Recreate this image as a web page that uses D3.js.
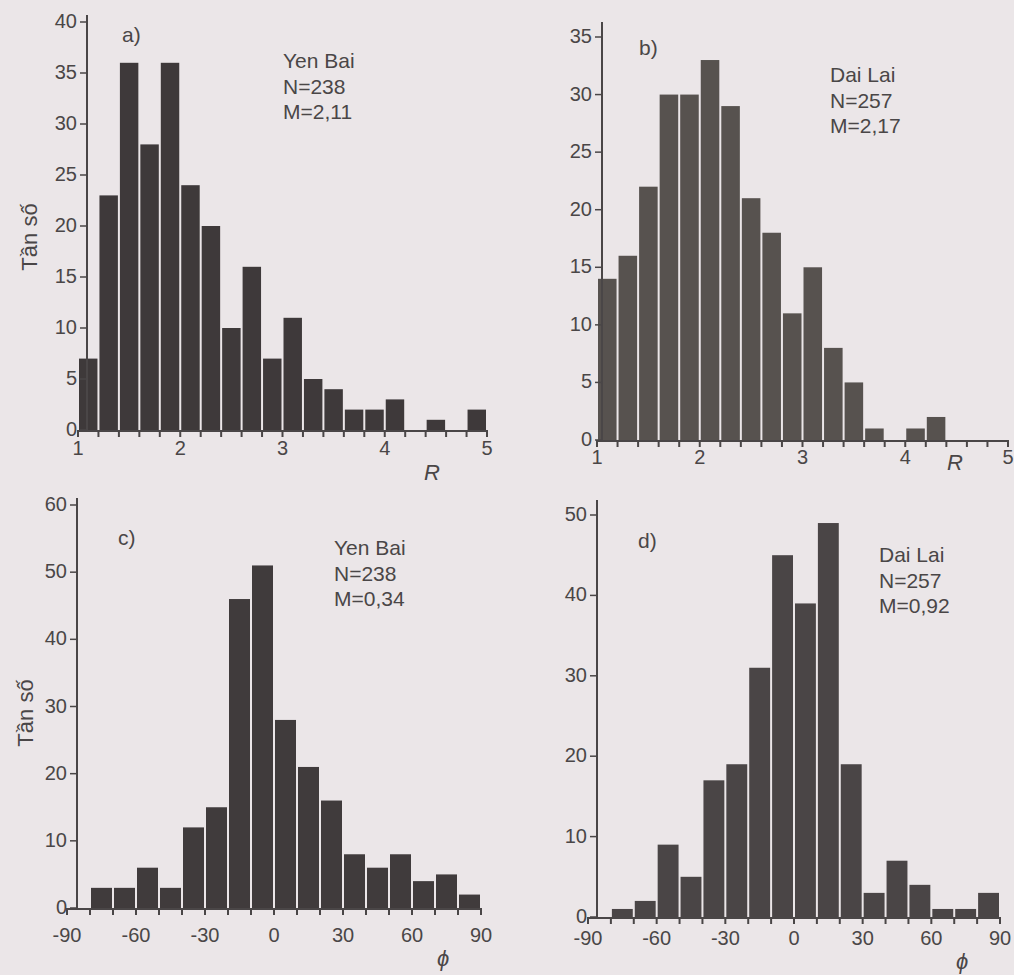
<!DOCTYPE html>
<html><head><meta charset="utf-8">
<script src="https://cdn.jsdelivr.net/npm/d3@7"></script>
<style>
html,body{margin:0;padding:0;background:#ebe6e8;}
svg{display:block;}
text{font-family:"Liberation Sans",Arial,sans-serif;fill:#4a4647;}
</style></head>
<body>
<svg id="c" width="1014" height="975"></svg>
<script>
// Bin starts (bin width 0.2 for R, 10 degrees for phi)
const rBinStarts = [1.0,1.2,1.4,1.6,1.8,2.0,2.2,2.4,2.6,2.8,3.0,3.2,3.4,3.6,3.8,4.0,4.2,4.4,4.6,4.8];
const phiBinStarts = [-90,-80,-70,-60,-50,-40,-30,-20,-10,0,10,20,30,40,50,60,70,80];

// Frequencies
const yenBaiR  = [7,23,36,28,36,24,20,10,16,7,11,5,4,2,2,3,0,1,0,2];
const daiLaiR  = [14,16,22,30,30,33,29,21,18,11,15,8,5,1,0,1,2,0,0,0];
const yenBaiPhi = [0,3,3,6,3,12,15,46,51,28,21,16,8,6,8,4,5,2];
const daiLaiPhi = [0,1,2,9,5,17,19,31,45,39,49,19,3,7,4,1,1,3];

const rTicks = [1,2,3,4,5];
const phiTicks = [-90,-60,-30,0,30,60,90];
const yTicksA = [0,5,10,15,20,25,30,35,40];
const yTicksB = [0,5,10,15,20,25,30,35];
const yTicksC = [0,10,20,30,40,50,60];
const yTicksD = [0,10,20,30,40,50];

const panels = [
  {tag:"a)", site:"Yen Bai", n:"N=238", m:"M=2,11", starts:rBinStarts, w:0.2, vals:yenBaiR,
   xd:[1,5], xr:[78,487], yd:[0,40], yr:[430,22], axisX:87, axisTop:15, xt:rTicks, yt:yTicksA, xlDy:25,
   xlab:"R", xlabPos:[432,480], tagPos:[122,42], infoPos:[283,68], ylabPos:[37,237], fill:"#3e393a"},
  {tag:"b)", site:"Dai Lai", n:"N=257", m:"M=2,17", starts:rBinStarts, w:0.2, vals:daiLaiR,
   xd:[1,5], xr:[597,1008], yd:[0,35], yr:[440,37], axisX:602, axisTop:22, xt:rTicks, yt:yTicksB, xlDy:24,
   xlab:"R", xlabPos:[955,470], tagPos:[639,55], infoPos:[830,82], ylabPos:null, fill:"#57524f"},
  {tag:"c)", site:"Yen Bai", n:"N=238", m:"M=0,34", starts:phiBinStarts, w:10, vals:yenBaiPhi,
   xd:[-90,90], xr:[67,481], yd:[0,60], yr:[908,505], axisX:77, axisTop:498, xt:phiTicks, yt:yTicksC, xlDy:34,
   xlab:"ϕ", xlabPos:[443,966], tagPos:[118,545], infoPos:[334,555], ylabPos:[33,713], fill:"#403b3c"},
  {tag:"d)", site:"Dai Lai", n:"N=257", m:"M=0,92", starts:phiBinStarts, w:10, vals:daiLaiPhi,
   xd:[-90,90], xr:[588,1000], yd:[0,50], yr:[917,515], axisX:597, axisTop:500, xt:phiTicks, yt:yTicksD, xlDy:28,
   xlab:"ϕ", xlabPos:[962,969], tagPos:[638,548], infoPos:[879,562], ylabPos:null, fill:"#4a4546"}
];

const svg = d3.select("#c");

panels.forEach(p => {
  const x = d3.scaleLinear().domain(p.xd).range(p.xr);
  const y = d3.scaleLinear().domain(p.yd).range(p.yr);
  const g = svg.append("g");
  const data = p.starts.map((s,i)=>({s, v:p.vals[i]}));

  // bars
  g.selectAll("rect.bar").data(data.filter(d=>d.v>0)).join("rect")
    .attr("class","bar")
    .attr("x", d=>x(d.s)+1)
    .attr("width", d=>x(d.s+p.w)-x(d.s)-2)
    .attr("y", d=>y(d.v))
    .attr("height", d=>y(0)-y(d.v))
    .attr("fill", p.fill);

  // x axis (ticks at bin edges, labels at major ticks)
  const edges = p.starts.concat([p.xd[1]]);
  g.append("line").attr("x1",x(p.xd[0])).attr("x2",x(p.xd[1]))
    .attr("y1",y(0)+1).attr("y2",y(0)+1).attr("stroke","#4a4647").attr("stroke-width",2);
  g.selectAll("line.xt").data(edges).join("line").attr("class","xt")
    .attr("x1",d=>x(d)).attr("x2",d=>x(d)).attr("y1",y(0)).attr("y2",y(0)+7)
    .attr("stroke","#4a4647").attr("stroke-width",2);
  g.selectAll("text.xl").data(p.xt).join("text").attr("class","xl")
    .attr("x",d=>x(d)).attr("y",y(0)+p.xlDy).attr("text-anchor","middle")
    .attr("font-size",20).text(d=>d);

  // y axis
  g.append("line").attr("x1",p.axisX).attr("x2",p.axisX).attr("y1",p.axisTop).attr("y2",y(0)+2)
    .attr("stroke","#4a4647").attr("stroke-width",2);
  g.selectAll("line.yt").data(p.yt).join("line").attr("class","yt")
    .attr("x1",p.axisX-7).attr("x2",p.axisX).attr("y1",d=>y(d)).attr("y2",d=>y(d))
    .attr("stroke","#4a4647").attr("stroke-width",1.5);
  g.selectAll("text.yl").data(p.yt).join("text").attr("class","yl")
    .attr("x",p.axisX-10).attr("y",d=>y(d)+6).attr("text-anchor","end")
    .attr("font-size",20).text(d=>d);

  // labels
  g.append("text").attr("x",p.tagPos[0]).attr("y",p.tagPos[1]).attr("font-size",21).text(p.tag);
  [p.site,p.n,p.m].forEach((t,i)=>{
    g.append("text").attr("x",p.infoPos[0]).attr("y",p.infoPos[1]+i*25.5).attr("font-size",21).text(t);
  });
  g.append("text").attr("x",p.xlabPos[0]).attr("y",p.xlabPos[1]).attr("font-size",22)
    .attr("font-style","italic").attr("text-anchor","middle").text(p.xlab);
  if (p.ylabPos) {
    g.append("text").attr("transform",`translate(${p.ylabPos[0]},${p.ylabPos[1]}) rotate(-90)`)
      .attr("text-anchor","middle").attr("font-size",22).text("Tần số");
  }
});
</script>
</body></html>
